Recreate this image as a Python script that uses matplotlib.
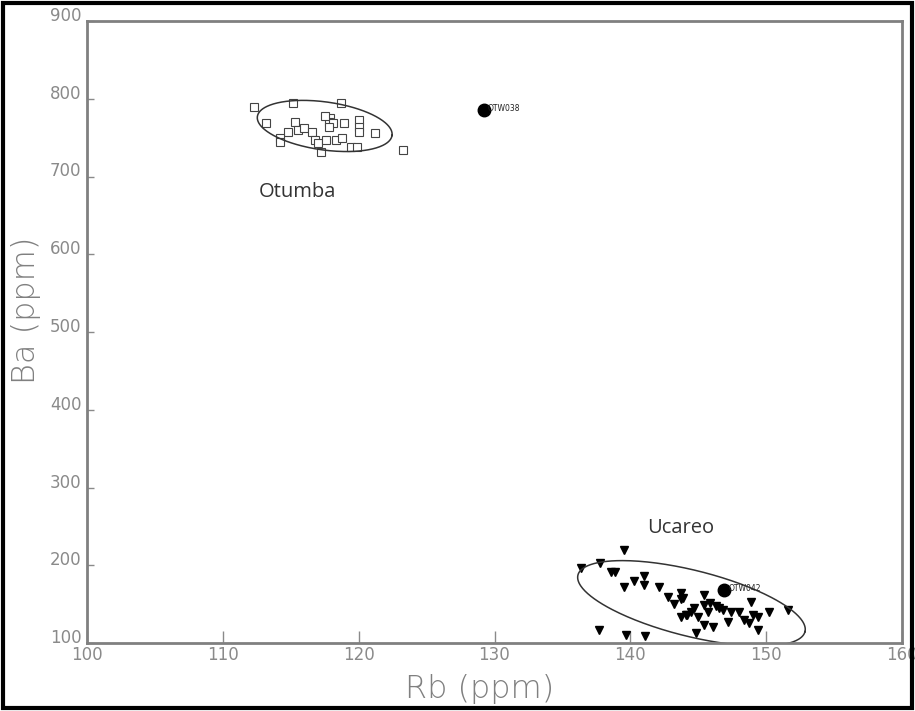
import numpy as np
import matplotlib
matplotlib.use('Agg')
import matplotlib.pyplot as plt
from matplotlib.patches import Rectangle

# Otumba obsidian (open squares)
otumba_rb = [112.3, 115.2, 118.7, 113.2, 115.3, 115.5, 114.8, 114.2, 114.2, 116.0,
             116.6, 116.8, 117.0, 117.9, 117.8, 118.1, 117.8, 118.9, 118.3, 118.8,
             117.6, 117.2, 120.0, 120.0, 120.0, 119.4, 119.9, 121.2, 123.3, 117.5]
otumba_ba = [790, 794, 794, 769, 770, 760, 757, 749, 744, 762,
             757, 747, 743, 775, 770, 769, 764, 769, 747, 750,
             747, 731, 773, 764, 757, 738, 738, 756, 734, 778]

# Ucareo obsidian (filled triangles)
ucareo_rb = [139.5, 136.4, 137.8, 138.6, 138.9, 139.5, 140.3, 141.0, 141.0, 142.1,
             142.8, 143.7, 143.7, 144.1, 137.7, 139.7, 141.1, 145.4, 145.4, 144.7,
             144.2, 145.0, 145.7, 146.5, 146.8, 147.4, 148.0, 147.2, 146.1, 145.4,
             144.8, 143.9, 148.9, 149.0, 148.7, 149.4, 149.4, 150.2, 151.6, 143.7,
             146.3, 144.5, 143.2, 145.9, 148.4]
ucareo_ba = [220, 197, 203, 191, 191, 172, 180, 186, 175, 172,
             159, 164, 157, 136, 117, 110, 109, 162, 149, 145,
             136, 133, 140, 145, 142, 140, 140, 127, 121, 123,
             113, 158, 153, 136, 126, 117, 133, 140, 142, 133,
             147, 140, 150, 152, 130]

# artefacts
art_rb = [129.2, 146.9]
art_ba = [785, 168]
art_names = ['OTW038', 'OTW042']

# group ellipses: centre (Rb, Ba), half-axes and tilt in screen pixels
ell_otumba = dict(cx=117.5, cy=765, a=68, b=24, ang=-8)
ell_ucareo = dict(cx=144.5, cy=151, a=117, b=33, ang=-14)

fig = plt.figure(figsize=(9.15, 7.11), dpi=100)
W, H = 915, 711
ax = fig.add_axes([87 / W, 1 - 643 / H, (902 - 87) / W, (643 - 21) / H])
ax.set_xlim(100, 160)
ax.set_ylim(100, 900)

ax.plot(otumba_rb, otumba_ba, 's', ms=5.5, mfc='white', mec='#444444', mew=0.8,
        linestyle='none')
ax.plot(ucareo_rb, ucareo_ba, 'v', ms=5.8, color='black', linestyle='none')
ax.plot(art_rb, art_ba, 'o', ms=9, color='black', linestyle='none')
for x, y, n in zip(art_rb, art_ba, art_names):
    ax.text(x + 0.3, y + 2, n, fontsize=5.5, va='center', ha='left', color='#222222')

# pixels per data unit
sx = ax.bbox.width / 60.0
sy = ax.bbox.height / 800.0
t = np.linspace(0, 2 * np.pi, 300)
for e in (ell_otumba, ell_ucareo):
    th = np.radians(e['ang'])
    u = e['a'] * np.cos(t)
    v = e['b'] * np.sin(t)
    px = u * np.cos(th) - v * np.sin(th)
    py = u * np.sin(th) + v * np.cos(th)
    ax.plot(e['cx'] + px / sx, e['cy'] + py / sy, color='#333333', lw=1.1)

ax.text(115.5, 680, 'Otumba', fontsize=14.5, family='Open Sans', ha='center',
        va='center', color='#333333')
ax.text(143.7, 248, 'Ucareo', fontsize=14.5, family='Open Sans', ha='center',
        va='center', color='#333333')

ax.set_xticks(np.arange(100, 161, 10))
ax.set_yticks(np.arange(100, 901, 100))
ax.tick_params(axis='x', direction='in', length=9, width=1, colors='#8a8a8a',
               labelsize=12, pad=2)
ax.tick_params(axis='y', direction='in', length=5, width=1, colors='#8a8a8a',
               labelsize=12, pad=4)
for lab in ax.get_yticklabels():
    lab.set_verticalalignment('baseline')
for s in ax.spines.values():
    s.set_color('#808080')
    s.set_linewidth(2)

ax.set_xlabel('Rb (ppm)', fontsize=23, color='#808080', fontweight='light')
ax.set_ylabel('Ba (ppm)', fontsize=23, color='#808080', fontweight='light')
ax.xaxis.set_label_coords(0.482, -0.05)
ax.yaxis.set_label_coords(-0.057, 0.535)

fig.patches.append(Rectangle((0.003, 0.004), 0.994, 0.992, transform=fig.transFigure,
                             fill=False, edgecolor='black', lw=3))

plt.savefig('out.png', dpi=100)
